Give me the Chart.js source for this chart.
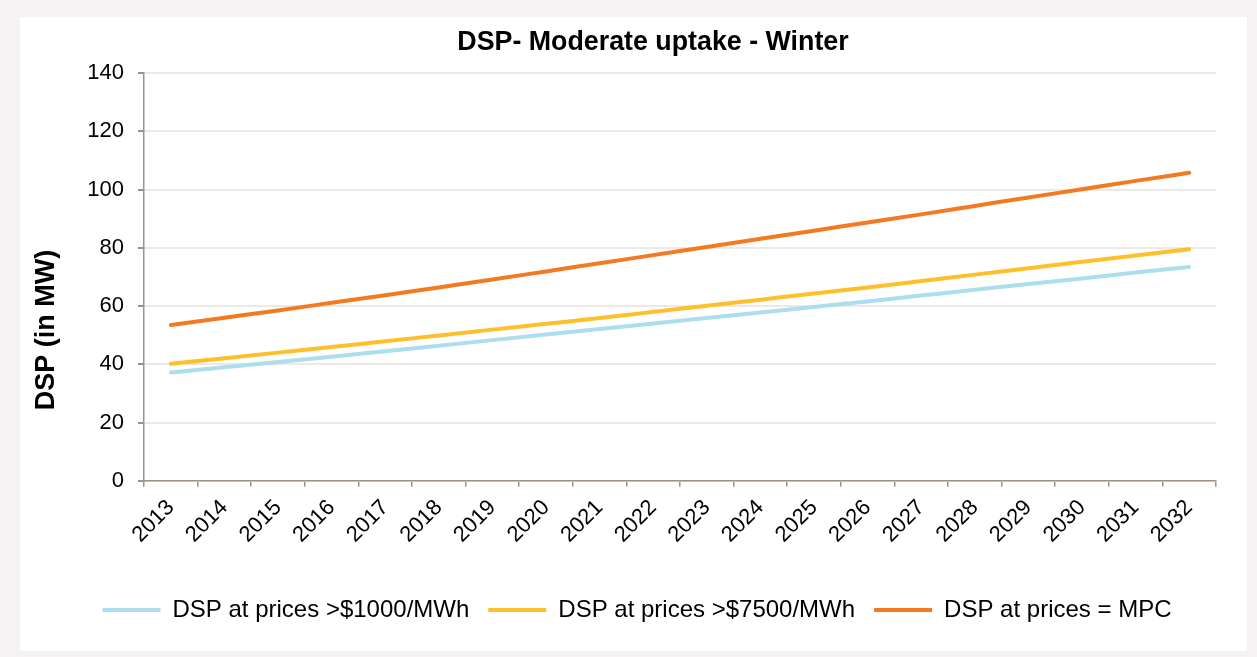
<!DOCTYPE html>
<html><head><meta charset="utf-8">
<script src="https://cdn.jsdelivr.net/npm/chart.js@4.4.0/dist/chart.umd.min.js"></script>
<style>
html,body{margin:0;padding:0;background:#f4f2f2;width:1257px;height:657px;overflow:hidden;}
#panel{position:absolute;left:20px;top:17px;width:1227px;height:634px;background:#ffffff;}
canvas{display:block;}
</style></head><body>
<div id="panel"><canvas id="c" width="1227" height="634"></canvas></div>
<script>
const years = ['2013','2014','2015','2016','2017','2018','2019','2020','2021','2022','2023','2024','2025','2026','2027','2028','2029','2030','2031','2032'];
const dsp1000 = [37.2,39.0,40.8,42.6,44.5,46.4,48.3,50.2,52.1,54.0,55.9,57.8,59.7,61.6,63.6,65.6,67.6,69.5,71.5,73.4];
const dsp7500 = [40.2,42.1,44.0,45.9,47.9,49.9,51.9,53.9,55.9,58.0,60.1,62.2,64.3,66.4,68.6,70.8,73.0,75.2,77.4,79.5];
const dspMPC  = [53.5,56.0,58.5,61.1,63.7,66.4,69.1,71.9,74.7,77.5,80.3,83.1,85.9,88.7,91.5,94.4,97.3,100.1,103.0,105.8];
const seriesNames = ['DSP at prices >$1000/MWh','DSP at prices >$7500/MWh','DSP at prices = MPC'];
const yTicks = [0,20,40,60,80,100,120,140];
const chartTitle = 'DSP- Moderate uptake - Winter';
const yTitle = 'DSP (in MW)';

const FONT = 'Liberation Sans, Arial, sans-serif';
const axisColor = '#a09282';
const gridColor = '#ece8e5';

const tweakPlugin = {
  id: 'tweak',
  afterLayout(chart) {
    const t = chart.titleBlock;
    if (t) { t.left += 35; t.right += 35; }
    const l = chart.legend;
    if (l) { l.left += 19; l.right += 19; }
  },
  afterDraw(chart) {
    const ctx = chart.ctx;
    ctx.save();
    ctx.translate(27, 313);
    ctx.rotate(-Math.PI / 2);
    ctx.font = 'bold 27px ' + FONT;
    ctx.fillStyle = '#000';
    ctx.textAlign = 'center';
    ctx.textBaseline = 'middle';
    ctx.fillText(yTitle, 0, 0);
    ctx.restore();
  }
};

new Chart(document.getElementById('c'), {
  type: 'line',
  data: {
    labels: years,
    datasets: [
      {label: seriesNames[0], data: dsp1000, borderColor: '#acdeed', backgroundColor: '#acdeed'},
      {label: seriesNames[1], data: dsp7500, borderColor: '#fdc02a', backgroundColor: '#fdc02a'},
      {label: seriesNames[2], data: dspMPC,  borderColor: '#f37a22', backgroundColor: '#f37a22'}
    ].map(d => Object.assign(d, {borderWidth: 4, pointRadius: 0, borderCapStyle: 'round', borderJoinStyle: 'round', cubicInterpolationMode: 'monotone', fill: false}))
  },
  options: {
    responsive: false,
    animation: false,
    events: [],
    layout: {padding: {left: 0, right: 31, top: 0, bottom: 19}},
    plugins: {
      tooltip: {enabled: false},
      title: {display: true, text: chartTitle, color: '#000', font: {family: FONT, size: 26.8, weight: 'bold'}, padding: {top: 10, bottom: 14}},
      legend: {
        position: 'bottom',
        labels: {
          usePointStyle: true, pointStyle: 'line', pointStyleWidth: 58, boxHeight: 4,
          color: '#000', font: {family: FONT, size: 24}, padding: 19
        }
      }
    },
    scales: {
      x: {
        type: 'category',
        offset: true,
        afterFit: s => { s.height += 23; },
        grid: {offset: true, drawOnChartArea: false, drawTicks: true, tickLength: 6, color: axisColor, lineWidth: 1.5},
        border: {color: axisColor, width: 1.5},
        ticks: {color: '#000', font: {family: FONT, size: 22}, minRotation: 45, maxRotation: 45, padding: 8, autoSkip: false}
      },
      y: {
        min: yTicks[0], max: yTicks[yTicks.length - 1],
        afterFit: s => { s.width = 124; },
        afterBuildTicks: s => { s.ticks = yTicks.map(v => ({value: v})); },
        grid: {color: gridColor, lineWidth: 2, drawTicks: true, tickLength: 6, tickColor: axisColor},
        border: {color: axisColor, width: 1.5},
        ticks: {color: '#000', font: {family: FONT, size: 22}, padding: 14}
      }
    }
  },
  plugins: [tweakPlugin]
});
</script>
</body></html>
